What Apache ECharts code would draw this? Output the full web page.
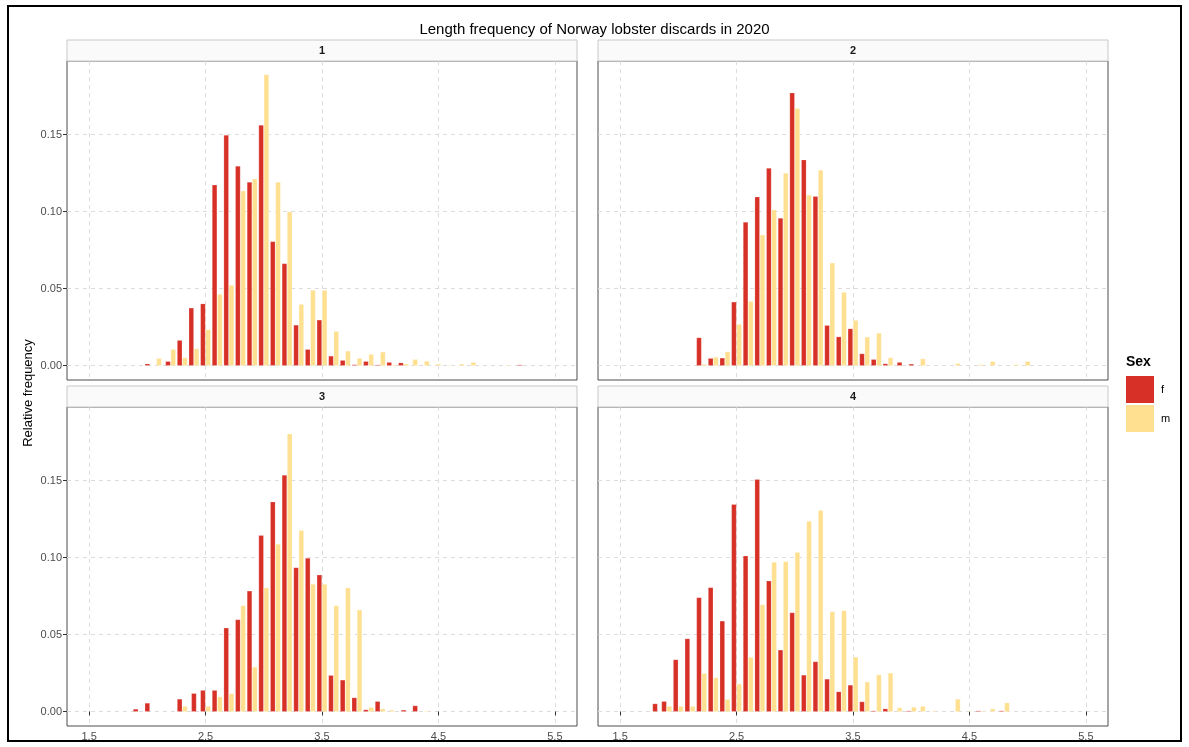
<!DOCTYPE html>
<html>
<head>
<meta charset="utf-8">
<script src="https://cdn.jsdelivr.net/npm/echarts@6/dist/echarts.min.js"></script>
<style>
html,body{margin:0;padding:0;background:#fff;}
#chart{width:1189px;height:747px;}
</style>
</head>
<body>
<div id="chart"></div>
<script>
// ---------- data ----------
const chartTitle = 'Length frequency of Norway lobster discards in 2020';
const yTitle = 'Relative frequency';
const panelNames = ['1', '2', '3', '4'];
const sexNames = ['f', 'm'];
const xTicks = [1.5, 2.5, 3.5, 4.5, 5.5];
const yTicks = [0, 0.05, 0.10, 0.15];
const lengths = [1.8,1.9,2.0,2.1,2.2,2.3,2.4,2.5,2.6,2.7,2.8,2.9,3.0,3.1,3.2,3.3,3.4,3.5,3.6,3.7,3.8,3.9,4.0,4.1,4.2,4.3,4.4,4.5,4.6,4.7,4.8,4.9,5.0,5.1,5.2];

const p1_f = [0,0,0.001,0,0.0026,0.0163,0.0373,0.040,0.1172,0.1495,0.1294,0.119,0.156,0.0804,0.0661,0.0262,0.0104,0.0295,0.0061,0.0033,0.0005,0.0026,0.0004,0.002,0.0017,0,0,0,0,0,0,0,0,0,0.0004];
const p1_m = [0,0,0,0.0045,0.0104,0.005,0.0108,0.0232,0.0462,0.052,0.1133,0.1211,0.1887,0.119,0.0997,0.0397,0.0488,0.0488,0.0221,0.0093,0.0046,0.0072,0.0087,0.0005,0.001,0.0039,0.0028,0.0009,0.0002,0.0009,0.002,0,0,0.0003,0];
const p2_f = [0,0,0,0,0.018,0.0046,0.0048,0.0412,0.093,0.1094,0.128,0.0956,0.177,0.1335,0.1097,0.026,0.0186,0.0238,0.0076,0.0039,0.0011,0.002,0.0009,0,0,0,0,0,0,0,0,0,0,0,0];
const p2_m = [0,0,0,0,0.0007,0.0054,0.0089,0.0267,0.0416,0.0847,0.101,0.1248,0.1669,0.1105,0.1268,0.0665,0.0475,0.0293,0.0184,0.021,0.005,0,0,0.0043,0,0,0.0013,0,0.0006,0.0026,0,0.0006,0.0026,0,0];
const p3_f = [0,0.0015,0.0054,0,0,0.008,0.0117,0.0137,0.0137,0.0542,0.0596,0.0782,0.1142,0.1361,0.1534,0.0934,0.0995,0.0886,0.0234,0.0204,0.0089,0.0011,0.0065,0,0.0009,0.0037,0,0,0,0,0,0,0,0,0];
const p3_m = [0,0,0,0,0,0.0033,0,0.0033,0.0095,0.0115,0.0687,0.0288,0.0802,0.1086,0.1801,0.1175,0.0826,0.0826,0.0687,0.0802,0.0659,0.0026,0.0017,0.0009,0,0,0.0003,0,0,0,0,0,0,0,0];
const p4_f = [0.005,0.0065,0.0336,0.0472,0.0739,0.0804,0.0587,0.1344,0.101,0.1506,0.0847,0.0399,0.0641,0.0236,0.0323,0.021,0.0128,0.0171,0.0063,0.0004,0.0017,0,0.0004,0,0,0,0,0,0.0004,0,0.0004,0,0,0,0];
const p4_m = [0,0.0033,0.0033,0.0033,0.0247,0.0219,0.0078,0.0178,0.0351,0.0693,0.0969,0.0973,0.1032,0.1235,0.1305,0.0648,0.0654,0.0353,0.0191,0.0238,0.0249,0.0024,0.0028,0.0033,0.0004,0,0.008,0.0002,0.0002,0.0017,0.0056,0,0,0,0];

const panelData = [[p1_f, p1_m], [p2_f, p2_m], [p3_f, p3_m], [p4_f, p4_m]];

// ---------- style / layout ----------
const colors = ['#D73027', '#FEE090'];
const FONT = '"Liberation Sans", Arial, sans-serif';
const grids = [
  {left: 67, top: 61, width: 510, height: 319},
  {left: 598, top: 61, width: 510, height: 319},
  {left: 67, top: 407, width: 510, height: 319},
  {left: 598, top: 407, width: 510, height: 319}
];
const X_MIN = 1.31, X_MAX = 5.69;
const Y_MIN = -0.0094, Y_MAX = 0.1977;
const SLOT = 0.045;

function renderBar(params, api) {
  const x = api.value(0), y = api.value(1), off = api.value(2);
  const a = api.coord([x + off - SLOT / 2, y]);
  const b = api.coord([x + off + SLOT / 2, 0]);
  return {
    type: 'rect',
    shape: {x: a[0] + 0.3, y: a[1], width: Math.max(0.5, b[0] - a[0] - 0.6), height: b[1] - a[1]},
    style: {fill: api.visual('color'), stroke: 'rgba(255,255,255,0.5)', lineWidth: 0.4}
  };
}

const xAxes = [], yAxes = [], series = [], graphics = [];
grids.forEach((g, i) => {
  const bottomRow = i >= 2, leftCol = i % 2 === 0;
  xAxes.push({
    type: 'value', gridIndex: i, min: X_MIN, max: X_MAX,
    axisLine: {show: false},
    axisTick: {show: bottomRow, length: 4, lineStyle: {color: '#333'}, customValues: xTicks},
    axisLabel: {show: bottomRow, customValues: xTicks, color: '#4d4d4d', fontSize: 11, fontFamily: FONT, margin: 5,
      formatter: v => v.toFixed(1)},
    splitLine: {show: true, lineStyle: {color: '#dcdcdc', type: [4, 4], width: 1}},
    minorTick: {show: false}
  });
  yAxes.push({
    type: 'value', gridIndex: i, min: Y_MIN, max: Y_MAX,
    axisLine: {show: false},
    axisTick: {show: leftCol, length: 4, lineStyle: {color: '#333'}, customValues: yTicks},
    axisLabel: {show: leftCol, customValues: yTicks, color: '#4d4d4d', fontSize: 11, fontFamily: FONT, margin: 5,
      formatter: v => v.toFixed(2)},
    splitLine: {show: true, lineStyle: {color: '#dcdcdc', type: [4, 4], width: 1}}
  });
  const [fv, mv] = panelData[i];
  [fv, mv].forEach((vals, s) => {
    const other = s === 0 ? mv : fv;
    const data = [];
    lengths.forEach((L, k) => {
      if (vals[k] > 0) {
        const off = other[k] > 0 ? (s === 0 ? -SLOT / 2 : SLOT / 2) : 0;
        data.push([L, vals[k], off]);
      }
    });
    series.push({
      type: 'custom', name: sexNames[s], xAxisIndex: i, yAxisIndex: i,
      itemStyle: {color: colors[s]},
      renderItem: renderBar, data: data, encode: {x: 0, y: 1}, clip: true
    });
  });
  // strip
  const stripH = 21;
  graphics.push({
    type: 'rect', shape: {x: g.left, y: g.top - stripH, width: g.width, height: stripH},
    style: {fill: '#fafafa', stroke: '#c8c8c8', lineWidth: 1}, z: 10
  });
  graphics.push({
    type: 'text', x: g.left + g.width / 2, y: g.top - stripH / 2,
    style: {text: panelNames[i], font: 'bold 11px ' + FONT, fill: '#1a1a1a', align: 'center', verticalAlign: 'middle'}, z: 11
  });
});

// outer border
graphics.push({type: 'rect', shape: {x: 8, y: 6, width: 1173, height: 735},
  style: {fill: 'none', stroke: '#000', lineWidth: 2}, z: 20});
// y title
graphics.push({type: 'text', x: 28, y: 393, rotation: Math.PI / 2,
  style: {text: yTitle, font: '13px ' + FONT, fill: '#000', align: 'center', verticalAlign: 'middle'}});
// legend title
graphics.push({type: 'text', x: 1126, y: 362,
  style: {text: 'Sex', font: 'bold 14px ' + FONT, fill: '#000', align: 'left', verticalAlign: 'middle'}});

const option = {
  animation: false,
  backgroundColor: '#fff',
  title: {text: chartTitle, left: 'center', top: 17,
    textStyle: {fontFamily: FONT, fontSize: 15, fontWeight: 'normal', color: '#000'}},
  grid: grids.map(g => Object.assign({show: true, borderColor: '#4d4d4d', borderWidth: 1, backgroundColor: 'transparent', containLabel: false}, g)),
  xAxis: xAxes,
  yAxis: yAxes,
  legend: {
    data: sexNames, orient: 'vertical', left: 1126, top: 376,
    itemWidth: 28, itemHeight: 27, itemGap: 2, icon: 'rect',
    textStyle: {fontFamily: FONT, fontSize: 11, color: '#000', padding: [0, 0, 0, 2]},
    selectedMode: false, padding: 0
  },
  series: series,
  graphic: graphics
};

const chart = echarts.init(document.getElementById('chart'), null, {renderer: 'canvas'});
chart.setOption(option);
</script>
</body>
</html>
